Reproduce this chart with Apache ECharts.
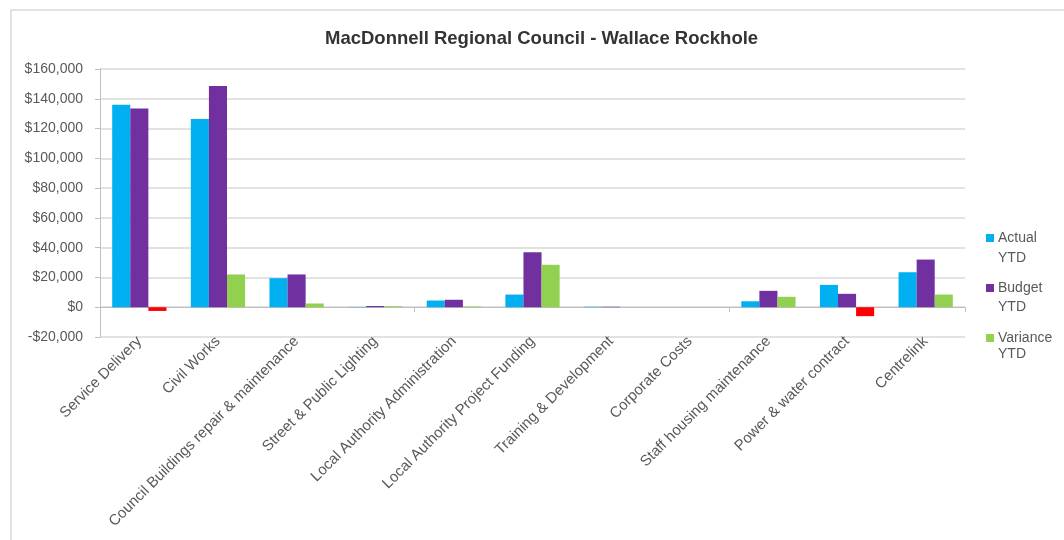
<!DOCTYPE html>
<html><head><meta charset="utf-8">
<script src="https://cdn.jsdelivr.net/npm/echarts@6/dist/echarts.min.js"></script>
<style>html,body{margin:0;padding:0;background:#fff}#c{width:1064px;height:540px}</style>
</head><body><div id="c"></div>
<script>
const categories = ['Service Delivery','Civil Works','Council Buildings repair & maintenance','Street & Public Lighting','Local Authority Administration','Local Authority Project Funding','Training & Development','Corporate Costs','Staff housing maintenance','Power & water contract','Centrelink'];
const actualYTD = [136000,126500,19500,200,4500,8500,300,0,4000,15000,23500];
const budgetYTD = [133500,148500,22000,800,5000,37000,300,0,11000,9000,32000];
const varianceYTD = [-2500,22000,2500,600,500,28500,0,0,7000,-6000,8500];
const seriesNames = ['Actual YTD','Budget YTD','Variance YTD'];

const chart = echarts.init(document.getElementById('c'));
const fmt = v => (v < 0 ? '-$' : '$') + Math.abs(v).toLocaleString('en-US');
const font = 'Liberation Sans';
const ytd = top => ({ type: 'text', left: 998, top: top, style: { text: 'YTD', font: '14px Liberation Sans', fill: '#595959' } });
chart.setOption({
  animation: false,
  title: { text: 'MacDonnell Regional Council - Wallace Rockhole', left: 320, top: 24,
    textStyle: { fontFamily: font, fontSize: 18.5, fontWeight: 'bold', color: '#333333' } },
  grid: { left: 100, right: 99, top: 69, bottom: 203 },
  legend: { orient: 'vertical', left: 981, top: 226, itemWidth: 8, itemHeight: 8, itemGap: 36,
    icon: 'rect', formatter: n => n.split(' ')[0],
    textStyle: { fontFamily: font, fontSize: 14, color: '#595959', padding: [0,0,0,-1] },
    data: [{name: seriesNames[0]}, {name: seriesNames[1]}, {name: seriesNames[2], itemStyle: {color: '#92D050'}}] },
  graphic: [
    { type: 'rect', shape: { x: 11, y: 10, width: 1100, height: 600 }, style: { fill: 'none', stroke: '#d9d9d9', lineWidth: 1.5 } },
    ytd(251), ytd(300), ytd(347)
  ],
  xAxis: [
    { type: 'category', data: categories, position: 'bottom',
      axisLine: { onZero: false, show: false }, axisTick: { show: false },
      axisLabel: { rotate: 45, interval: 0, margin: 2, fontFamily: font, fontSize: 15, color: '#595959' } },
    { type: 'category', data: categories, position: 'top',
      axisLine: { onZero: true, lineStyle: { color: '#bfbfbf' } },
      axisTick: { show: true, inside: true, length: 5, lineStyle: { color: '#bfbfbf' } },
      axisLabel: { show: false } }
  ],
  yAxis: { type: 'value', min: -20000, max: 160000, interval: 20000,
    axisLine: { show: true, lineStyle: { color: '#bfbfbf' } },
    axisTick: { show: true, length: 5, lineStyle: { color: '#bfbfbf' } },
    splitLine: { lineStyle: { color: '#d9d9d9', width: 1.5 } },
    axisLabel: { formatter: fmt, fontFamily: font, fontSize: 14, color: '#595959', margin: 17 } },
  series: [
    { name: seriesNames[0], type: 'bar', data: actualYTD, barGap: '0%', barCategoryGap: '31%', itemStyle: { color: '#00B0F0' } },
    { name: seriesNames[1], type: 'bar', data: budgetYTD, itemStyle: { color: '#7030A0' } },
    { name: seriesNames[2], type: 'bar', data: varianceYTD.map(v => ({ value: v, itemStyle: { color: v < 0 ? '#FF0000' : '#92D050' } })), itemStyle: { color: '#92D050' } }
  ]
});
</script></body></html>
